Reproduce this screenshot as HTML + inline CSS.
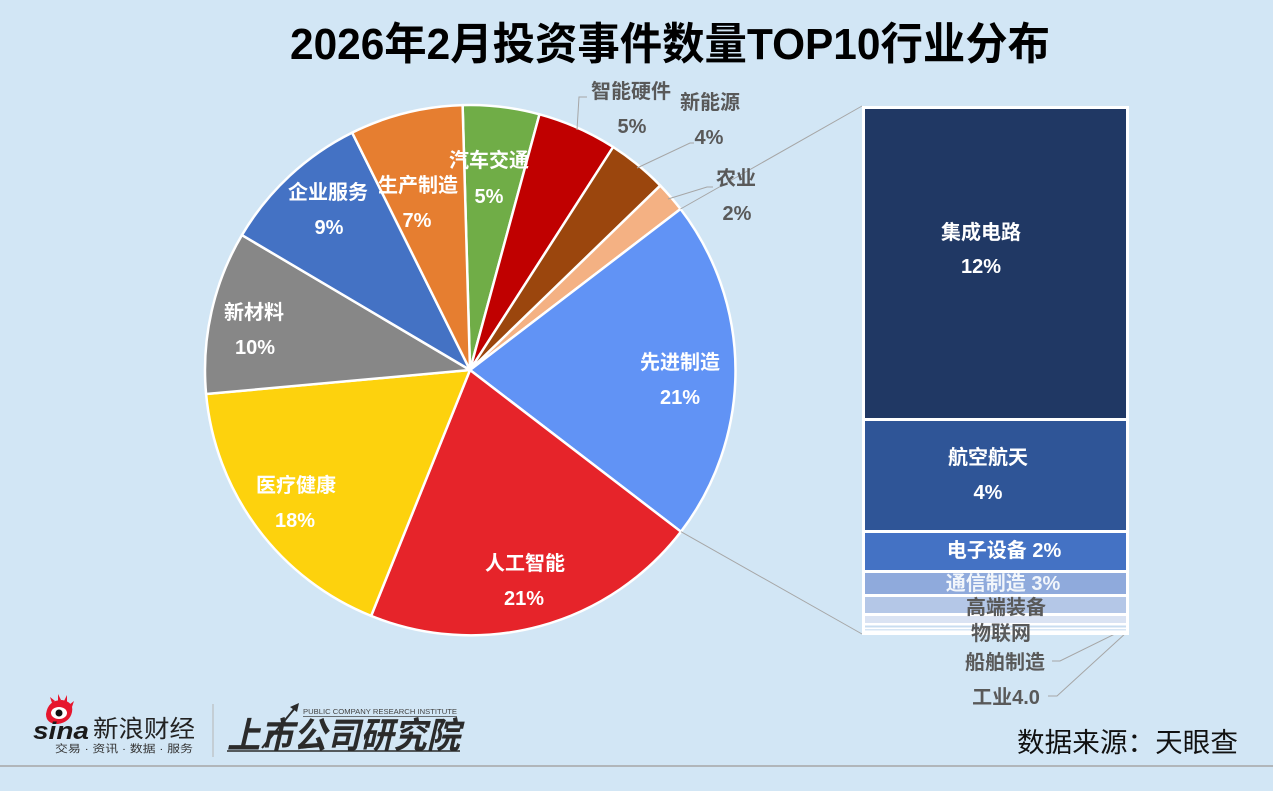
<!DOCTYPE html>
<html>
<head>
<meta charset="utf-8">
<style>
html,body{margin:0;padding:0;background:#D2E6F5;}
svg{display:block;}
text{font-family:"Liberation Sans","Noto Sans CJK SC",sans-serif;}
</style>
</head>
<body>
<svg width="1273" height="791" viewBox="0 0 1273 791" xmlns="http://www.w3.org/2000/svg">
<rect x="0" y="0" width="1273" height="791" fill="#D2E6F5"/>

<!-- Title -->
<text x="290" y="59" font-size="44" font-weight="bold" fill="#000" textLength="760" lengthAdjust="spacingAndGlyphs">2026年2月投资事件数量TOP10行业分布</text>

<!-- Pie -->
<g stroke="#FFFFFF" stroke-width="2.5" stroke-linejoin="round">
  <path d="M470,370 L462.60,105.10 A265,265 0 0 1 539.48,114.27 Z" fill="#70AD47"/>
  <path d="M470,370 L539.48,114.27 A265,265 0 0 1 613.16,147.00 Z" fill="#C00000"/>
  <path d="M470,370 L613.16,147.00 A265,265 0 0 1 660.30,185.58 Z" fill="#9B460D"/>
  <path d="M470,370 L660.30,185.58 A265,265 0 0 1 680.52,209.04 Z" fill="#F4B183"/>
  <path d="M470,370 L680.52,209.04 A265,265 0 0 1 680.96,531.69 Z" fill="#6193F5"/>
  <path d="M470,370 L680.96,531.69 A265,265 0 0 1 371.16,615.88 Z" fill="#E6242A"/>
  <path d="M470,370 L371.16,615.88 A265,265 0 0 1 206.09,394.02 Z" fill="#FDD20D"/>
  <path d="M470,370 L206.09,394.02 A265,265 0 0 1 241.90,235.10 Z" fill="#878787"/>
  <path d="M470,370 L241.90,235.10 A265,265 0 0 1 352.17,132.64 Z" fill="#4472C4"/>
  <path d="M470,370 L352.17,132.64 A265,265 0 0 1 462.60,105.10 Z" fill="#E67E30"/>
</g>

<!-- connector lines pie -> bar -->
<g stroke="#A6A6A6" stroke-width="1" fill="none">
  <line x1="680.5" y1="209" x2="862" y2="106"/>
  <line x1="681" y1="531.7" x2="862" y2="634"/>
  <!-- leader lines -->
  <polyline points="577,130 579,97 587,97"/>
  <polyline points="637,168 690,143 694,143"/>
  <polyline points="668,199 707,187 713,187"/>
  <polyline points="1127,628 1060,661 1052,661"/>
  <polyline points="1127,632 1057,696 1048,696"/>
</g>

<!-- Bar -->
<rect x="862" y="106" width="267" height="529" fill="#FFFFFF"/>
<rect x="865" y="109" width="261" height="309" fill="#203864"/>
<rect x="865" y="421" width="261" height="109" fill="#2F5597"/>
<rect x="865" y="533" width="261" height="37" fill="#4472C4"/>
<rect x="865" y="573" width="261" height="21" fill="#8FAADC"/>
<rect x="865" y="597" width="261" height="16" fill="#B4C7E7"/>
<rect x="865" y="616" width="261" height="7" fill="#DAE3F3"/>
<rect x="865" y="625.5" width="261" height="2" fill="#C9DDF0"/>
<rect x="865" y="629" width="261" height="1.5" fill="#D6E5F4"/>

<!-- Pie labels inside (white) -->
<g font-size="20" font-weight="bold" fill="#FFFFFF" text-anchor="middle">
  <text x="328" y="199">企业服务</text>
  <text x="329" y="234">9%</text>
  <text x="418" y="192">生产制造</text>
  <text x="417" y="227">7%</text>
  <text x="489" y="167">汽车交通</text>
  <text x="489" y="203">5%</text>
  <text x="254" y="319">新材料</text>
  <text x="255" y="354">10%</text>
  <text x="680" y="369">先进制造</text>
  <text x="680" y="404">21%</text>
  <text x="296" y="492">医疗健康</text>
  <text x="295" y="527">18%</text>
  <text x="525" y="570">人工智能</text>
  <text x="524" y="605">21%</text>
</g>

<!-- Pie labels outside (gray) -->
<g font-size="20" font-weight="bold" fill="#595959" text-anchor="middle">
  <text x="631" y="98">智能硬件</text>
  <text x="632" y="133">5%</text>
  <text x="710" y="109">新能源</text>
  <text x="709" y="144">4%</text>
  <text x="736" y="185">农业</text>
  <text x="737" y="220">2%</text>
</g>

<!-- Bar labels -->
<g font-size="20" font-weight="bold" fill="#FFFFFF" text-anchor="middle">
  <text x="981" y="239">集成电路</text>
  <text x="981" y="273">12%</text>
  <text x="988" y="464">航空航天</text>
  <text x="988" y="499">4%</text>
  <text x="1004" y="557">电子设备 2%</text>
  <text x="1003" y="590" fill="#F2F6FB">通信制造 3%</text>
</g>
<g font-size="20" font-weight="bold" fill="#595959" text-anchor="middle">
  <text x="1006" y="614">高端装备</text>
  <text x="1001" y="640">物联网</text>
  <text x="1005" y="669">船舶制造</text>
  <text x="1006" y="704">工业4.0</text>
</g>

<!-- Sina logo -->
<g>
  <g fill="#E6162D">
    <path d="M46,714 Q48,700 62,700 Q74,702 72,712 Q70,722 58,724 Q46,724 46,714 Z"/>
    <path d="M52,703 L50,697 L55,701 Z"/>
    <path d="M58,701 L58,694 L61,700 Z"/>
    <path d="M64,701 L67,695 L67,702 Z"/>
    <path d="M69,705 L74,701 L72,707 Z"/>
  </g>
  <ellipse cx="59" cy="713" rx="8" ry="6" fill="#FFFFFF"/>
  <circle cx="59" cy="713" r="3.5" fill="#111"/>
  <text x="33" y="739" font-size="24" font-weight="bold" font-style="italic" fill="#1a1a1a" textLength="56" lengthAdjust="spacingAndGlyphs">sina</text>
  <text x="93" y="737" font-size="24" fill="#222" textLength="102" lengthAdjust="spacingAndGlyphs">新浪财经</text>
  <text x="55" y="752" font-size="10.5" fill="#333" textLength="138" lengthAdjust="spacingAndGlyphs">交易 · 资讯 · 数据 · 服务</text>
</g>
<line x1="213" y1="704" x2="213" y2="757" stroke="#B5B5B5" stroke-width="1"/>

<!-- 上市公司研究院 logo -->
<g>
  <text x="303" y="714" font-size="7.5" fill="#444" textLength="154" lengthAdjust="spacingAndGlyphs">PUBLIC COMPANY RESEARCH INSTITUTE</text>
  <line x1="303" y1="716.5" x2="457" y2="716.5" stroke="#444" stroke-width="0.8"/>
  <text x="227" y="748" font-size="36" font-weight="bold" font-style="italic" fill="#2B2B2B" textLength="233" lengthAdjust="spacingAndGlyphs">上市公司研究院</text>
  <line x1="227" y1="751" x2="460" y2="751" stroke="#2B2B2B" stroke-width="1.5"/>
  <line x1="262" y1="748" x2="295" y2="708" stroke="#2B2B2B" stroke-width="2"/>
  <path d="M299,703 L290,707 L297,712 Z" fill="#2B2B2B"/>
</g>

<!-- Source -->
<text x="1017" y="752" font-size="27" fill="#111" textLength="221" lengthAdjust="spacingAndGlyphs">数据来源：天眼查</text>

<!-- bottom rule -->
<line x1="0" y1="766" x2="1273" y2="766" stroke="#A6A6A6" stroke-width="1.5"/>
</svg>
</body>
</html>
